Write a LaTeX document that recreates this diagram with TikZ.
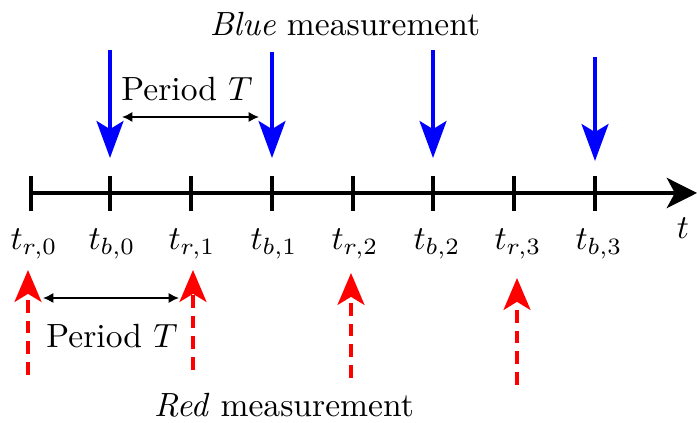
\documentclass[tikz,border=0pt]{standalone}
\usetikzlibrary{arrows.meta}
\begin{document}
\begin{tikzpicture}[x=0.298pt,y=-0.298pt,
  axisline/.style={line width=1.2pt,-{Stealth[length=9pt,width=9pt,inset=2.4pt]}},
  tickline/.style={line width=1.2pt},
  bluearr/.style={blue,line width=1.2pt,-{Stealth[length=11pt,width=8pt,inset=2.4pt]}},
  redarr/.style={red,line width=1.2pt,dash pattern=on 3.8pt off 2.4pt,-{Stealth[length=9.5pt,width=8pt,inset=2.4pt]}},
  periodarr/.style={line width=0.6pt,{Latex[length=3.1pt,width=3.1pt]}-{Latex[length=3.1pt,width=3.1pt]}},
  lbl/.style={inner sep=0pt}
]
\useasboundingbox (0,0) rectangle (697,423);
% axis
\coordinate (a0) at (31,193);
\coordinate (a1) at (697,193);
\draw[axisline] (a0) -- (a1);
\foreach \x in {31,110,191,272,353,433,514,595}{
  \draw[tickline] (\x,176) -- (\x,211);
}
\node[lbl] (tr0) at (34,244) {$t_{r,0}$};
\node[lbl] (tb0) at (112,244) {$t_{b,0}$};
\node[lbl] (tr1) at (192,244) {$t_{r,1}$};
\node[lbl] (tb1) at (274,244) {$t_{b,1}$};
\node[lbl] (tr2) at (355,244) {$t_{r,2}$};
\node[lbl] (tb2) at (437,244) {$t_{b,2}$};
\node[lbl] (tr3) at (518,244) {$t_{r,3}$};
\node[lbl] (tb3) at (599,244) {$t_{b,3}$};
\node[lbl] (tt) at (683,228) {$t$};
% blue arrows
\coordinate (b0s) at (110,50);  \coordinate (b0e) at (110,158);
\coordinate (b1s) at (272,52);  \coordinate (b1e) at (272,158);
\coordinate (b2s) at (433,50);  \coordinate (b2e) at (433,158);
\coordinate (b3s) at (595,57);  \coordinate (b3e) at (595,161);
\draw[bluearr] (b0s) -- (b0e);
\draw[bluearr] (b1s) -- (b1e);
\draw[bluearr] (b2s) -- (b2e);
\draw[bluearr] (b3s) -- (b3e);
% red arrows
\coordinate (r0s) at (28,375);  \coordinate (r0e) at (28,270);
\coordinate (r1s) at (193,370); \coordinate (r1e) at (193,270);
\coordinate (r2s) at (351,378); \coordinate (r2e) at (351,273);
\coordinate (r3s) at (517,385); \coordinate (r3e) at (517,278);
\draw[redarr] (r0s) -- (r0e);
\draw[redarr] (r1s) -- (r1e);
\draw[redarr] (r2s) -- (r2e);
\draw[redarr] (r3s) -- (r3e);
% period arrows
\coordinate (p0s) at (122,117); \coordinate (p0e) at (259,117);
\draw[periodarr] (p0s) -- (p0e);
\node[lbl] (pt0) at (187,89) {Period $T$};
\coordinate (p1s) at (43,298); \coordinate (p1e) at (179,298);
\draw[periodarr] (p1s) -- (p1e);
\node[lbl] (pt1) at (112,336) {Period $T$};
% titles
\node[lbl] (blue) at (345,24) {\textit{Blue} measurement};
\node[lbl] (red) at (284,405) {\textit{Red} measurement};
\end{tikzpicture}
\end{document}
